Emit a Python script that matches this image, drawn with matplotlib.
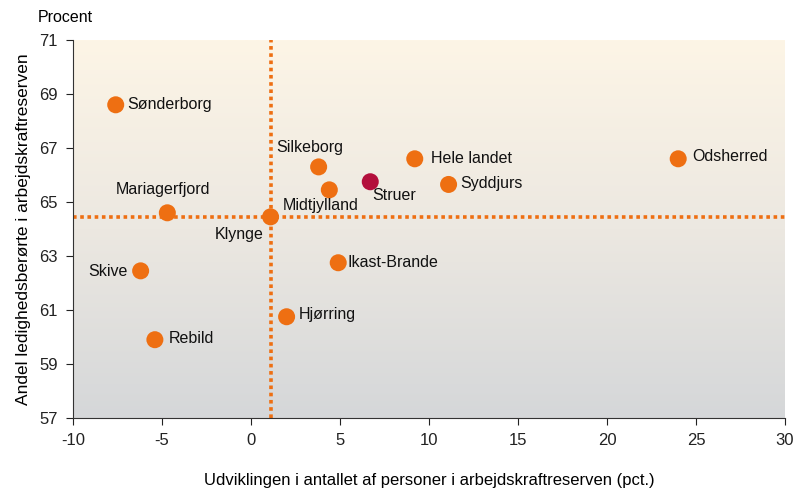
import matplotlib.pyplot as plt
import numpy as np
from matplotlib.colors import LinearSegmentedColormap

plt.rcParams['font.family'] = ['Liberation Sans', 'DejaVu Sans']
plt.rcParams['axes.unicode_minus'] = False

navne = ["Sønderborg", "Silkeborg", "Midtjylland", "Struer", "Hele landet", "Syddjurs",
         "Odsherred", "Mariagerfjord", "Klynge", "Skive", "Ikast-Brande", "Hjørring", "Rebild"]
udvikling = [-7.6, 3.8, 4.4, 6.7, 9.2, 11.1, 24.0, -4.7, 1.1, -6.2, 4.9, 2.0, -5.4]
andel = [68.6, 66.3, 65.45, 65.75, 66.6, 65.65, 66.6, 64.6, 64.45, 62.45, 62.75, 60.75, 59.9]

# label offsets (pixels) and alignment
offs = {
    "Sønderborg": (12, 0, 'left'),
    "Silkeborg": (-42, 19, 'left'),
    "Midtjylland": (-47, -16, 'left'),
    "Struer": (2, -14, 'left'),
    "Hele landet": (16, 0, 'left'),
    "Syddjurs": (12, 1, 'left'),
    "Odsherred": (14, 2, 'left'),
    "Mariagerfjord": (-4, 23, 'center'),
    "Klynge": (-7, -18, 'right'),
    "Skive": (-13, -1, 'right'),
    "Ikast-Brande": (9, 0, 'left'),
    "Hjørring": (12, 2, 'left'),
    "Rebild": (14, 1, 'left'),
}

orange = '#EE6F12'
struer_farve = '#B30F3C'

fig = plt.figure(figsize=(7.95, 4.95), dpi=100)
ax = fig.add_axes([73/795, 1-418/495, 712/795, 378/495])

cmap = LinearSegmentedColormap.from_list('bg', ['#FDF5E6', '#ECE8E1', '#D5D7D9'])
grad = np.linspace(0, 1, 256).reshape(-1, 1)
ax.imshow(grad, cmap=cmap, aspect='auto', extent=[-10, 30, 57, 71], zorder=0)

kx = udvikling[navne.index("Klynge")]
ky = andel[navne.index("Klynge")]
ax.axvline(kx, color=orange, linestyle=(0, (1, 1)), linewidth=2.6, zorder=1)
ax.axhline(ky, color=orange, linestyle=(0, (1, 1)), linewidth=2.6, zorder=1)

farver = [struer_farve if n == "Struer" else orange for n in navne]
ax.scatter(udvikling, andel, s=150, c=farver, zorder=3, edgecolors='none')

for n, x, y in zip(navne, udvikling, andel):
    dx, dy, ha = offs[n]
    ax.annotate(n, (x, y), xytext=(dx, dy), textcoords='offset pixels',
                ha=ha, va='center', fontsize=11.5, color='#111111', zorder=4)

ax.set_xlim(-10, 30)
ax.set_ylim(57, 71)
ax.set_xticks(range(-10, 31, 5))
ax.set_yticks(range(57, 72, 2))
ax.tick_params(labelsize=12, length=5, direction='out', colors='#222222', pad=6)
for s in ['top', 'right']:
    ax.spines[s].set_visible(False)
for s in ['left', 'bottom']:
    ax.spines[s].set_color('#333333')

ax.set_xlabel("Udviklingen i antallet af personer i arbejdskraftreserven (pct.)", fontsize=12, labelpad=18)
ax.set_ylabel("Andel ledighedsberørte i arbejdskraftreserven", fontsize=12.5, labelpad=6)
fig.text(38/795, 1-18/495, "Procent", fontsize=11.5, va='center', ha='left')

fig.savefig('out.png', dpi=100)
